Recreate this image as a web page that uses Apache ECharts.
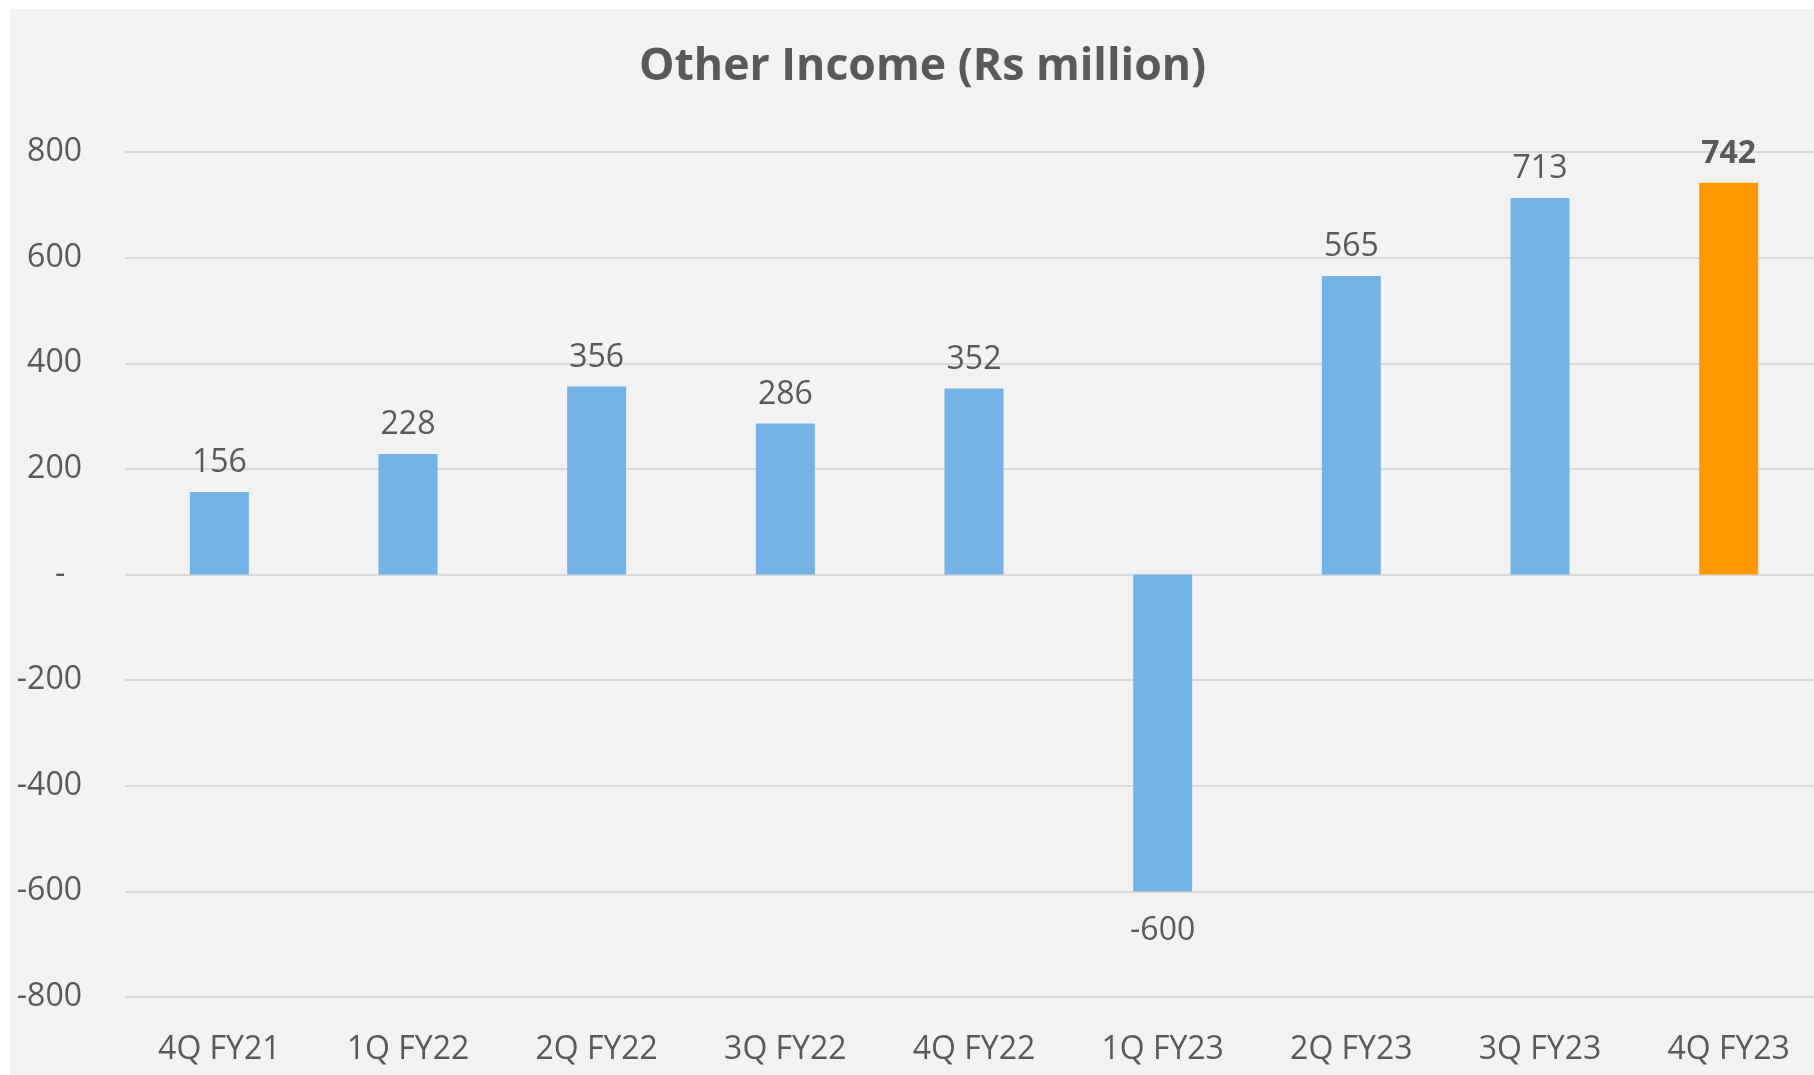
<!DOCTYPE html>
<html>
<head>
<meta charset="utf-8">
<style>
  html, body { margin: 0; padding: 0; background: #ffffff; overflow: hidden; }
  #chart { width: 1832px; height: 1075px; }
</style>
<script src="https://cdn.jsdelivr.net/npm/echarts@6/dist/echarts.min.js"></script>
</head>
<body>
<div id="chart"></div>
<script>
// Quarterly other income, Rs million
const quarters = ['4Q FY21', '1Q FY22', '2Q FY22', '3Q FY22', '4Q FY22', '1Q FY23', '2Q FY23', '3Q FY23', '4Q FY23'];
const otherIncome = [156, 228, 356, 286, 352, -600, 565, 713, 742];
const highlightQuarter = '4Q FY23';

const TEXT = '#595959';
const FONT = '"Open Sans", "Noto Sans", sans-serif';

const barData = otherIncome.map((v, i) => {
  const isHighlight = quarters[i] === highlightQuarter;
  return {
    value: v,
    itemStyle: { color: isHighlight ? '#FF9900' : '#75B3E6' },
    label: {
      position: v < 0 ? 'bottom' : 'top',
      distance: v < 0 ? 24 : 13,
      fontWeight: isHighlight ? 'bold' : 'normal'
    }
  };
});

const chart = echarts.init(document.getElementById('chart'), null, { renderer: 'canvas' });
chart.setOption({
  backgroundColor: '#ffffff',
  animation: false,
  graphic: [{
    type: 'rect',
    left: 10, top: 9,
    shape: { width: 1822, height: 1066 },
    style: { fill: '#F2F2F2' },
    z: -10
  }],
  title: {
    text: 'Other Income (Rs million)',
    left: 634,
    top: 40,
    textStyle: { fontFamily: FONT, fontSize: 44.6, fontWeight: 'bold', color: TEXT }
  },
  grid: { left: 125, top: 152, right: 9, height: 845, containLabel: false },
  xAxis: {
    type: 'category',
    data: quarters,
    position: 'bottom',
    axisLine: { show: false, onZero: false },
    axisTick: { show: false },
    axisLabel: { margin: 37, fontFamily: FONT, fontSize: 32, color: TEXT, interval: 0 }
  },
  yAxis: {
    type: 'value',
    min: -800, max: 800, interval: 200,
    axisLine: { show: false },
    axisTick: { show: false },
    splitLine: { lineStyle: { color: '#D9D9D9', width: 2 } },
    axisLabel: {
      margin: 43, fontFamily: FONT, fontSize: 32, color: TEXT,
      formatter: v => (v === 0 ? '-  ' : String(v))
    }
  },
  series: [{
    type: 'bar',
    data: barData,
    barWidth: 59,
    label: {
      show: true,
      fontFamily: FONT,
      fontSize: 32,
      lineHeight: 32,
      color: TEXT
    }
  }]
});
</script>
</body>
</html>
